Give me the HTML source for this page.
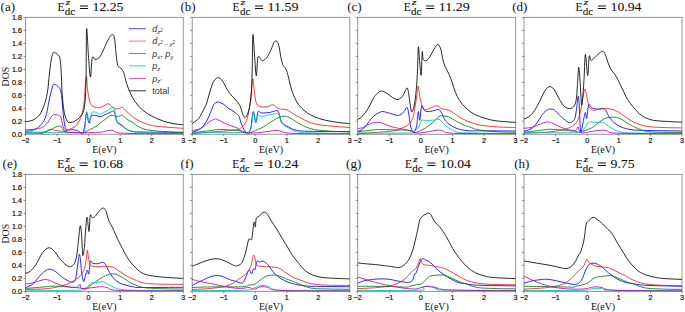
<!DOCTYPE html><html><head><meta charset="utf-8"><style>html,body{margin:0;padding:0;background:#fff;width:685px;height:312px;overflow:hidden}svg{display:block}.tk{font-family:"Liberation Sans",sans-serif;font-size:7.2px;fill:#111;stroke:#111;stroke-width:0.2px}.sf{font-family:"Liberation Serif",serif;fill:#111}.st{stroke:#111;stroke-width:0.1px}.lg{font-family:"Liberation Sans",sans-serif;font-size:9px;fill:#333}</style></head><body>
<svg width="685" height="312" viewBox="0 0 685 312">
<rect width="685" height="312" fill="#fff"/>
<clipPath id="cla"><rect x="25.5" y="17.4" width="157.8" height="116.9"/></clipPath>
<g clip-path="url(#cla)" fill="none" stroke-linejoin="round" stroke-linecap="round">
<path d="M25.5 131.3 C26.7 131.15 30.55 131.08 32.7 130.4 C34.85 129.72 36.97 128.22 38.4 127.2 C39.83 126.18 40.33 125.45 41.3 124.3 C42.27 123.15 43.32 122.1 44.2 120.3 C45.08 118.5 45.72 117.13 46.6 113.5 C47.48 109.87 48.52 102.95 49.5 98.5 C50.48 94.05 51.75 89.18 52.5 86.8 C53.25 84.42 53.18 84.37 54 84.2 C54.82 84.03 56.35 84.88 57.4 85.8 C58.45 86.72 59.55 87.58 60.3 89.7 C61.05 91.82 61.42 94.42 61.9 98.5 C62.38 102.58 62.65 109.37 63.2 114.2 C63.75 119.03 64.53 124.9 65.2 127.5 C65.87 130.1 66.1 129.42 67.2 129.8 C68.3 130.18 70.08 129.7 71.8 129.8 C73.52 129.9 76.07 129.92 77.5 130.4 C78.93 130.88 79.43 132.47 80.4 132.7 C81.37 132.93 82.5 133.55 83.3 131.8 C84.1 130.05 84.65 125.42 85.2 122.2 C85.75 118.98 86.12 112.83 86.6 112.5 C87.08 112.17 87.62 118.43 88.1 120.2 C88.58 121.97 89.02 123.73 89.5 123.1 C89.98 122.47 89.92 117.68 91 116.4 C92.08 115.12 94.5 115.33 96 115.4 C97.5 115.47 98.27 117.03 100 116.8 C101.73 116.57 104.48 114.85 106.4 114 C108.32 113.15 110.32 112.2 111.5 111.7 C112.68 111.2 112.9 110.58 113.5 111 C114.1 111.42 114.62 112.6 115.1 114.2 C115.58 115.8 115.92 119.1 116.4 120.6 C116.88 122.1 117.2 122.45 118 123.2 C118.8 123.95 120.13 124.35 121.2 125.1 C122.27 125.85 123.23 126.83 124.4 127.7 C125.57 128.57 126.72 129.67 128.2 130.3 C129.68 130.93 131.33 131.22 133.3 131.5 C135.27 131.78 131.72 131.87 140 132 C148.28 132.13 175.83 132.25 183 132.3" stroke="#0000ff" stroke-width="0.85"/>
<path d="M25.5 133.8 C27.92 133.77 36.75 133.82 40 133.6 C43.25 133.38 43.67 133.03 45 132.5 C46.33 131.97 47.1 130.92 48 130.4 C48.9 129.88 49.1 129.38 50.4 129.4 C51.7 129.42 54 130.2 55.8 130.5 C57.6 130.8 59.53 131.15 61.2 131.2 C62.87 131.25 64.13 131.25 65.8 130.8 C67.47 130.35 69.67 129.17 71.2 128.5 C72.73 127.83 73.62 128.18 75 126.8 C76.38 125.42 78.28 122.58 79.5 120.2 C80.72 117.82 81.5 115.7 82.3 112.5 C83.1 109.3 83.82 105.17 84.3 101 C84.78 96.83 84.88 91.25 85.2 87.5 C85.52 83.75 85.95 80.2 86.2 78.5 C86.45 76.8 86.47 75.38 86.7 77.3 C86.93 79.22 87.05 85.8 87.6 90 C88.15 94.2 89.12 99.78 90 102.5 C90.88 105.22 91.82 105.47 92.9 106.3 C93.98 107.13 95.32 107.28 96.5 107.5 C97.68 107.72 98.78 107.87 100 107.6 C101.22 107.33 102.47 106.55 103.8 105.9 C105.13 105.25 106.72 103.6 108 103.7 C109.28 103.8 110.27 105.65 111.5 106.5 C112.73 107.35 114.22 108.47 115.4 108.8 C116.58 109.13 117.43 108.7 118.6 108.5 C119.77 108.3 121.02 107.07 122.4 107.6 C123.78 108.13 125.3 110.27 126.9 111.7 C128.5 113.13 130.65 115.07 132 116.2 C133.35 117.33 132.87 117.3 135 118.5 C137.13 119.7 141.13 122.1 144.8 123.4 C148.47 124.7 150.63 125.48 157 126.3 C163.37 127.12 178.67 127.97 183 128.3" stroke="#e42222" stroke-width="0.85"/>
<path d="M25.5 132.3 C27.92 132.28 36.88 132.28 40 132.2 C43.12 132.12 42.45 132.2 44.2 131.8 C45.95 131.4 48.7 130.55 50.5 129.8 C52.3 129.05 53.48 127.97 55 127.3 C56.52 126.63 58.52 125.88 59.6 125.8 C60.68 125.72 60.85 126.02 61.5 126.8 C62.15 127.58 62.55 129.58 63.5 130.5 C64.45 131.42 64.45 131.92 67.2 132.3 C69.95 132.68 77.37 132.63 80 132.8 C82.63 132.97 81.8 133.63 83 133.3 C84.2 132.97 85.87 131.52 87.2 130.8 C88.53 130.08 89.53 129.73 91 129 C92.47 128.27 94.5 127.37 96 126.4 C97.5 125.43 98.48 124.37 100 123.2 C101.52 122.03 103.6 120.57 105.1 119.4 C106.6 118.23 107.82 116.88 109 116.2 C110.18 115.52 111.13 115.3 112.2 115.3 C113.27 115.3 114.33 116.05 115.4 116.2 C116.47 116.35 117.43 116.35 118.6 116.2 C119.77 116.05 121.02 114.77 122.4 115.3 C123.78 115.83 125.3 118.3 126.9 119.4 C128.5 120.5 130.23 120.8 132 121.9 C133.77 123 134.55 124.62 137.5 126 C140.45 127.38 142.12 129.08 149.7 130.2 C157.28 131.32 177.45 132.28 183 132.7" stroke="#008000" stroke-width="0.85"/>
<path d="M25.5 132.5 C34.58 132.5 70.2 132.65 80 132.5 C89.8 132.35 83.33 133.97 84.3 131.6 C85.27 129.23 85.38 121.63 85.8 118.3 C86.22 114.97 86.42 111.77 86.8 111.6 C87.18 111.43 87.57 115.87 88.1 117.3 C88.63 118.73 89.35 121 90 120.2 C90.65 119.4 90.92 113.78 92 112.5 C93.08 111.22 95.17 112.22 96.5 112.5 C97.83 112.78 98.35 114.45 100 114.2 C101.65 113.95 104.68 111.95 106.4 111 C108.12 110.05 109.23 109.13 110.3 108.5 C111.37 107.87 112.12 107.2 112.8 107.2 C113.48 107.2 113.87 106.9 114.4 108.5 C114.93 110.1 115.52 114.67 116 116.8 C116.48 118.93 116.55 120.13 117.3 121.3 C118.05 122.47 119.32 122.83 120.5 123.8 C121.68 124.77 123.12 126.08 124.4 127.1 C125.68 128.12 126.72 129.15 128.2 129.9 C129.68 130.65 131.33 131.12 133.3 131.6 C135.27 132.08 131.72 132.47 140 132.8 C148.28 133.13 175.83 133.47 183 133.6" stroke="#00bfbf" stroke-width="0.85"/>
<path d="M25.5 129.6 C26.75 129.57 30.55 129.65 33 129.4 C35.45 129.15 38.33 128.65 40.2 128.1 C42.07 127.55 42.9 127.07 44.2 126.1 C45.5 125.13 46.95 123.65 48 122.3 C49.05 120.95 49.6 119.25 50.5 118 C51.4 116.75 52.1 115.27 53.4 114.8 C54.7 114.33 57.05 114.8 58.3 115.2 C59.55 115.6 60.08 115.23 60.9 117.2 C61.72 119.17 62.15 124.55 63.2 127 C64.25 129.45 64.4 130.98 67.2 131.9 C70 132.82 74.53 132.45 80 132.5 C85.47 132.55 95.38 132.52 100 132.2 C104.62 131.88 105.57 130.92 107.7 130.6 C109.83 130.28 111.52 130.03 112.8 130.3 C114.08 130.57 114.12 131.75 115.4 132.2 C116.68 132.65 116.4 132.75 120.5 133 C124.6 133.25 129.58 133.55 140 133.7 C150.42 133.85 175.83 133.87 183 133.9" stroke="#bf00bf" stroke-width="0.85"/>
<path d="M25.5 121.6 C26.25 121.5 28.58 121.33 30 121 C31.42 120.67 32.57 120.43 34 119.6 C35.43 118.77 37.43 117.18 38.6 116 C39.77 114.82 40.23 113.88 41 112.5 C41.77 111.12 42.5 109.45 43.2 107.7 C43.9 105.95 44.62 103.92 45.2 102 C45.78 100.08 46.23 98.53 46.7 96.2 C47.17 93.87 47.62 91.08 48 88 C48.38 84.92 48.63 81.2 49 77.7 C49.37 74.2 49.82 70.08 50.2 67 C50.58 63.92 50.92 61.32 51.3 59.2 C51.68 57.08 52.08 55.47 52.5 54.3 C52.92 53.13 53.22 52.37 53.8 52.2 C54.38 52.03 55.22 52.8 56 53.3 C56.78 53.8 57.87 54.42 58.5 55.2 C59.13 55.98 59.43 56.37 59.8 58 C60.17 59.63 60.42 61.67 60.7 65 C60.98 68.33 61.25 73.07 61.5 78 C61.75 82.93 61.75 88.9 62.2 94.6 C62.65 100.3 63.38 107.8 64.2 112.2 C65.02 116.6 66.13 119.27 67.1 121 C68.07 122.73 68.68 122.6 70 122.6 C71.32 122.6 73.35 121.92 75 121 C76.65 120.08 78.43 118.88 79.9 117.1 C81.37 115.32 82.88 113.82 83.8 110.3 C84.72 106.78 85.02 101.88 85.4 96 C85.78 90.12 85.9 86.2 86.1 75 C86.3 63.8 86.22 32.13 86.6 28.8 C86.98 25.47 87.77 46.98 88.4 55 C89.03 63.02 89.75 76.45 90.4 76.9 C91.05 77.35 91.5 60.58 92.3 57.7 C93.1 54.82 93.92 59.77 95.2 59.6 C96.48 59.43 98.45 58.72 100 56.7 C101.55 54.68 103.17 50.28 104.5 47.5 C105.83 44.72 106.92 42 108 40 C109.08 38 110.12 36.37 111 35.5 C111.88 34.63 112.67 34.05 113.3 34.8 C113.93 35.55 114.38 37.2 114.8 40 C115.22 42.8 115.32 47.43 115.8 51.6 C116.28 55.77 116.9 62.27 117.7 65 C118.5 67.73 119.72 67 120.6 68 C121.48 69 122.37 69.88 123 71 C123.63 72.12 123.82 72.67 124.4 74.7 C124.98 76.73 125.53 80.17 126.5 83.2 C127.47 86.23 128.78 89.85 130.2 92.9 C131.62 95.95 132.97 98.65 135 101.5 C137.03 104.35 139.55 107.53 142.4 110 C145.25 112.47 149.17 114.67 152.1 116.3 C155.03 117.93 157.52 118.82 160 119.8 C162.48 120.78 164.5 121.52 167 122.2 C169.5 122.88 172.33 123.47 175 123.9 C177.67 124.33 181.67 124.65 183 124.8" stroke="#000000" stroke-width="0.85"/>
</g>
<rect x="25.5" y="17.4" width="157.8" height="116.9" fill="none" stroke="rgba(0,0,0,0.42)" stroke-width="1.0"/>
<path d="M25.5 134.3 v2.0 M57.06 134.3 v2.0 M88.62 134.3 v2.0 M120.18 134.3 v2.0 M151.74 134.3 v2.0 M183.3 134.3 v2.0 M25.5 134.3 h-2.0 M25.5 121.31 h-2.0 M25.5 108.32 h-2.0 M25.5 95.33 h-2.0 M25.5 82.34 h-2.0 M25.5 69.36 h-2.0 M25.5 56.37 h-2.0 M25.5 43.38 h-2.0 M25.5 30.39 h-2.0 M25.5 17.4 h-2.0" stroke="rgba(0,0,0,0.42)" stroke-width="1.0" fill="none"/>
<text class="tk" x="25.5" y="142.9" text-anchor="middle">−2</text>
<text class="tk" x="57.06" y="142.9" text-anchor="middle">−1</text>
<text class="tk" x="88.62" y="142.9" text-anchor="middle">0</text>
<text class="tk" x="120.18" y="142.9" text-anchor="middle">1</text>
<text class="tk" x="151.74" y="142.9" text-anchor="middle">2</text>
<text class="tk" x="183.3" y="142.9" text-anchor="middle">3</text>
<text class="tk" x="22" y="136.9" text-anchor="end">0.0</text>
<text class="tk" x="22" y="123.91" text-anchor="end">0.2</text>
<text class="tk" x="22" y="110.92" text-anchor="end">0.4</text>
<text class="tk" x="22" y="97.93" text-anchor="end">0.6</text>
<text class="tk" x="22" y="84.94" text-anchor="end">0.8</text>
<text class="tk" x="22" y="71.96" text-anchor="end">1.0</text>
<text class="tk" x="22" y="58.97" text-anchor="end">1.2</text>
<text class="tk" x="22" y="45.98" text-anchor="end">1.4</text>
<text class="tk" x="22" y="32.99" text-anchor="end">1.6</text>
<text class="tk" x="22" y="20" text-anchor="end">1.8</text>
<text class="sf" font-size="9.8" x="0" y="0" text-anchor="middle" transform="translate(8.7 76.65) rotate(-90)">DOS</text>
<text class="sf" font-size="9.9" x="104.4" y="152.8" text-anchor="middle">E(eV)</text>
<text class="sf" font-size="13" x="0.6" y="10.8">(a)</text>
<text class="sf st" font-size="13.1" x="57.5" y="10.8" textLength="7.0" lengthAdjust="spacingAndGlyphs">E</text>
<text class="sf st" font-style="italic" font-size="9.2" x="65.5" y="5.3" textLength="4.8" lengthAdjust="spacingAndGlyphs">z</text>
<text class="sf st" font-size="9.9" x="64.8" y="14.7" textLength="10.4" lengthAdjust="spacingAndGlyphs">dc</text>
<rect x="79.9" y="5.5" width="8.1" height="1" fill="#111"/>
<rect x="79.9" y="8" width="8.1" height="1" fill="#111"/>
<text class="sf st" font-size="13.2" x="92.5" y="11" textLength="31" lengthAdjust="spacingAndGlyphs">12.25</text>
<clipPath id="clb"><rect x="192.2" y="17.4" width="157.6" height="116.9"/></clipPath>
<g clip-path="url(#clb)" fill="none" stroke-linejoin="round" stroke-linecap="round">
<path d="M192.1 132.4 C193.2 131.95 196.97 130.67 198.7 129.7 C200.43 128.73 201.22 127.98 202.5 126.6 C203.78 125.22 205.23 123.33 206.4 121.4 C207.57 119.47 208.73 116.65 209.5 115 C210.27 113.35 210.32 113.2 211 111.5 C211.68 109.8 212.77 106.28 213.6 104.8 C214.43 103.32 215.2 103.05 216 102.6 C216.8 102.15 217.2 101.87 218.4 102.1 C219.6 102.33 221.6 103.02 223.2 104 C224.8 104.98 226.53 106.93 228 108 C229.47 109.07 230.63 109.48 232 110.4 C233.37 111.32 235.03 112.5 236.2 113.5 C237.37 114.5 238.12 114.63 239 116.4 C239.88 118.17 240.53 121.7 241.5 124.1 C242.47 126.5 243.77 129.37 244.8 130.8 C245.83 132.23 246.73 133.02 247.7 132.7 C248.67 132.38 249.68 132.42 250.6 128.9 C251.52 125.38 252.33 112.72 253.2 111.6 C254.07 110.48 254.98 122.2 255.8 122.2 C256.62 122.2 257.15 113.15 258.1 111.6 C259.05 110.05 259.65 112.75 261.5 112.9 C263.35 113.05 266.63 112.88 269.2 112.5 C271.77 112.12 275.3 110.6 276.9 110.6 C278.5 110.6 278 110.57 278.8 112.5 C279.6 114.43 280.08 119.78 281.7 122.2 C283.32 124.62 286.08 125.67 288.5 127 C290.92 128.33 292.62 129.48 296.2 130.2 C299.78 130.92 301.12 131.08 310 131.3 C318.88 131.52 342.92 131.47 349.5 131.5" stroke="#0000ff" stroke-width="0.85"/>
<path d="M192.1 133.7 C195.92 133.38 207.65 132.45 215 131.8 C222.35 131.15 231.72 130.6 236.2 129.8 C240.68 129 240.3 128.27 241.9 127 C243.5 125.73 244.67 124.62 245.8 122.2 C246.93 119.78 247.9 116.37 248.7 112.5 C249.5 108.63 250.07 103.48 250.6 99 C251.13 94.52 251.52 88.95 251.9 85.6 C252.28 82.25 252.42 77.3 252.9 78.9 C253.38 80.5 254.17 91.03 254.8 95.2 C255.43 99.37 255.73 101.97 256.7 103.9 C257.67 105.83 258.83 106.32 260.6 106.8 C262.37 107.28 265.22 107.13 267.3 106.8 C269.38 106.47 271.18 104.48 273.1 104.8 C275.02 105.12 276.57 107.88 278.8 108.7 C281.03 109.52 283.93 108.73 286.5 109.7 C289.07 110.67 291.95 113.2 294.2 114.5 C296.45 115.8 297.18 116.1 300 117.5 C302.82 118.9 306.78 121.55 311.1 122.9 C315.42 124.25 319.5 124.83 325.9 125.6 C332.3 126.37 345.57 127.18 349.5 127.5" stroke="#e42222" stroke-width="0.85"/>
<path d="M192.1 132.7 C194.95 132.38 204.75 131.33 209.2 130.8 C213.65 130.27 215.58 129.67 218.8 129.5 C222.02 129.33 224.97 129.58 228.5 129.8 C232.03 130.02 236.8 130.32 240 130.8 C243.2 131.28 246.03 132.38 247.7 132.7 C249.37 133.02 247.7 133.5 250 132.7 C252.3 131.9 258.3 129.5 261.5 127.9 C264.7 126.3 266.63 124.7 269.2 123.1 C271.77 121.5 274.82 119.42 276.9 118.3 C278.98 117.18 280.1 116.72 281.7 116.4 C283.3 116.08 284.73 115.92 286.5 116.4 C288.27 116.88 290.05 118.03 292.3 119.3 C294.55 120.57 296.87 122.42 300 124 C303.13 125.58 306.78 127.65 311.1 128.8 C315.42 129.95 319.5 130.37 325.9 130.9 C332.3 131.43 345.57 131.82 349.5 132" stroke="#008000" stroke-width="0.85"/>
<path d="M192.1 132.5 C200.08 132.5 230.68 132.45 240 132.5 C249.32 132.55 246.08 133.88 248 132.8 C249.92 131.72 250.62 129.38 251.5 126 C252.38 122.62 252.58 113 253.3 112.5 C254.02 112 255 122.58 255.8 123 C256.6 123.42 257.15 116.1 258.1 115 C259.05 113.9 258.37 116.65 261.5 116.4 C264.63 116.15 273.98 113.73 276.9 113.5 C279.82 113.27 278.2 113.4 279 115 C279.8 116.6 280.12 120.93 281.7 123.1 C283.28 125.27 286.08 126.58 288.5 128 C290.92 129.42 292.62 130.8 296.2 131.6 C299.78 132.4 301.12 132.47 310 132.8 C318.88 133.13 342.92 133.47 349.5 133.6" stroke="#00bfbf" stroke-width="0.85"/>
<path d="M192.1 130.5 C193.2 130.3 196.97 129.82 198.7 129.3 C200.43 128.78 201.22 128.23 202.5 127.4 C203.78 126.57 205.12 125.33 206.4 124.3 C207.68 123.27 208.92 122.02 210.2 121.2 C211.48 120.38 213.05 119.75 214.1 119.4 C215.15 119.05 215.07 118.63 216.5 119.1 C217.93 119.57 220.38 121.12 222.7 122.2 C225.02 123.28 228 124.65 230.4 125.6 C232.8 126.55 235.18 126.87 237.1 127.9 C239.02 128.93 240.08 130.95 241.9 131.8 C243.72 132.65 244.98 132.88 248 133 C251.02 133.12 255.18 132.93 260 132.5 C264.82 132.07 272.8 130.4 276.9 130.4 C281 130.4 280.75 131.97 284.6 132.5 C288.45 133.03 289.18 133.37 300 133.6 C310.82 133.83 341.25 133.85 349.5 133.9" stroke="#bf00bf" stroke-width="0.85"/>
<path d="M192.1 123.6 C192.75 123.13 194.9 121.65 196 120.8 C197.1 119.95 197.77 119.7 198.7 118.5 C199.63 117.3 200.72 115.18 201.6 113.6 C202.48 112.02 203.2 110.6 204 109 C204.8 107.4 205.73 105.75 206.4 104 C207.07 102.25 207.47 100.37 208 98.5 C208.53 96.63 209.07 94.63 209.6 92.8 C210.13 90.97 210.67 89.1 211.2 87.5 C211.73 85.9 212.17 84.53 212.8 83.2 C213.43 81.87 214.2 80.43 215 79.5 C215.8 78.57 216.77 77.8 217.6 77.6 C218.43 77.4 219.2 77.77 220 78.3 C220.8 78.83 221.6 79.68 222.4 80.8 C223.2 81.92 224 83.53 224.8 85 C225.6 86.47 226.4 88.27 227.2 89.6 C228 90.93 228.8 91.93 229.6 93 C230.4 94.07 230.9 94.75 232 96 C233.1 97.25 234.87 98.87 236.2 100.5 C237.53 102.13 238.88 103.47 240 105.8 C241.12 108.13 242 112.58 242.9 114.5 C243.8 116.42 244.43 117.95 245.4 117.3 C246.37 116.65 247.73 114.28 248.7 110.6 C249.67 106.92 250.62 101.97 251.2 95.2 C251.78 88.43 251.92 80.08 252.2 70 C252.48 59.92 252.52 37.2 252.9 34.7 C253.28 32.2 253.93 48.12 254.5 55 C255.07 61.88 255.7 75.7 256.3 76 C256.9 76.3 257.07 59.35 258.1 56.8 C259.13 54.25 260.97 60.7 262.5 60.7 C264.03 60.7 265.85 58.72 267.3 56.8 C268.75 54.88 270.08 51.6 271.2 49.2 C272.32 46.8 273.12 43.75 274 42.4 C274.88 41.05 275.7 40.62 276.5 41.1 C277.3 41.58 278.08 42.68 278.8 45.3 C279.52 47.92 280.15 53.6 280.8 56.8 C281.45 60 281.98 62.67 282.7 64.5 C283.42 66.33 284.35 66.47 285.1 67.8 C285.85 69.13 286.5 70.33 287.2 72.5 C287.9 74.67 288.6 78.02 289.3 80.8 C290 83.58 290.53 86.42 291.4 89.2 C292.27 91.98 293.28 94.9 294.5 97.5 C295.72 100.1 296.97 102.55 298.7 104.8 C300.43 107.05 302.82 109.27 304.9 111 C306.98 112.73 308.35 113.8 311.2 115.2 C314.05 116.6 317.78 118.23 322 119.4 C326.22 120.57 331.92 121.5 336.5 122.2 C341.08 122.9 347.33 123.37 349.5 123.6" stroke="#000000" stroke-width="0.85"/>
</g>
<rect x="192.2" y="17.4" width="157.6" height="116.9" fill="none" stroke="rgba(0,0,0,0.42)" stroke-width="1.0"/>
<path d="M192.2 134.3 v2.0 M223.72 134.3 v2.0 M255.24 134.3 v2.0 M286.76 134.3 v2.0 M318.28 134.3 v2.0 M349.8 134.3 v2.0 M192.2 134.3 h-2.0 M192.2 121.31 h-2.0 M192.2 108.32 h-2.0 M192.2 95.33 h-2.0 M192.2 82.34 h-2.0 M192.2 69.36 h-2.0 M192.2 56.37 h-2.0 M192.2 43.38 h-2.0 M192.2 30.39 h-2.0 M192.2 17.4 h-2.0" stroke="rgba(0,0,0,0.42)" stroke-width="1.0" fill="none"/>
<text class="tk" x="192.2" y="142.9" text-anchor="middle">−2</text>
<text class="tk" x="223.72" y="142.9" text-anchor="middle">−1</text>
<text class="tk" x="255.24" y="142.9" text-anchor="middle">0</text>
<text class="tk" x="286.76" y="142.9" text-anchor="middle">1</text>
<text class="tk" x="318.28" y="142.9" text-anchor="middle">2</text>
<text class="tk" x="349.8" y="142.9" text-anchor="middle">3</text>
<text class="sf" font-size="9.9" x="271" y="152.8" text-anchor="middle">E(eV)</text>
<text class="sf" font-size="13" x="180.4" y="10.8">(b)</text>
<text class="sf st" font-size="13.1" x="232.6" y="10.8" textLength="7.0" lengthAdjust="spacingAndGlyphs">E</text>
<text class="sf st" font-style="italic" font-size="9.2" x="240.6" y="5.3" textLength="4.8" lengthAdjust="spacingAndGlyphs">z</text>
<text class="sf st" font-size="9.9" x="239.9" y="14.7" textLength="10.4" lengthAdjust="spacingAndGlyphs">dc</text>
<rect x="255" y="5.5" width="8.1" height="1" fill="#111"/>
<rect x="255" y="8" width="8.1" height="1" fill="#111"/>
<text class="sf st" font-size="13.2" x="267.6" y="11" textLength="31" lengthAdjust="spacingAndGlyphs">11.59</text>
<clipPath id="clc"><rect x="357.7" y="17.4" width="157.9" height="116.9"/></clipPath>
<g clip-path="url(#clc)" fill="none" stroke-linejoin="round" stroke-linecap="round">
<path d="M357.7 131.6 C358.55 131.18 361.32 130.23 362.8 129.1 C364.28 127.97 365.17 126.57 366.6 124.8 C368.03 123.03 369.8 120.27 371.4 118.5 C373 116.73 374.77 115.23 376.2 114.2 C377.63 113.17 378.88 112.75 380 112.3 C381.12 111.85 381.13 111.3 382.9 111.5 C384.67 111.7 388.03 112.85 390.6 113.5 C393.17 114.15 396.05 115.72 398.3 115.4 C400.55 115.08 402.65 112.97 404.1 111.6 C405.55 110.23 406.2 106.72 407 107.2 C407.8 107.68 408.27 111.2 408.9 114.5 C409.53 117.8 410 124.05 410.8 127 C411.6 129.95 412.73 132.37 413.7 132.2 C414.67 132.03 415.83 129.43 416.6 126 C417.37 122.57 417.77 112.57 418.3 111.6 C418.83 110.63 419.23 121.17 419.8 120.2 C420.37 119.23 420.9 107.4 421.7 105.8 C422.5 104.2 423.32 109.63 424.6 110.6 C425.88 111.57 427.63 111.67 429.4 111.6 C431.17 111.53 433.6 110.52 435.2 110.2 C436.8 109.88 437.88 109.15 439 109.7 C440.12 110.25 440.78 111.58 441.9 113.5 C443.02 115.42 443.93 119.05 445.7 121.2 C447.47 123.35 450.08 125.02 452.5 126.4 C454.92 127.78 457.32 128.77 460.2 129.5 C463.08 130.23 466.63 130.58 469.8 130.8 C472.97 131.02 471.58 130.77 479.2 130.8 C486.82 130.83 509.45 130.97 515.5 131" stroke="#0000ff" stroke-width="0.85"/>
<path d="M357.7 133.7 C363.83 133.22 387.08 131.77 394.5 130.8 C401.92 129.83 399.97 128.87 402.2 127.9 C404.43 126.93 406.3 126.28 407.9 125 C409.5 123.72 410.83 121.95 411.8 120.2 C412.77 118.45 413 117.7 413.7 114.5 C414.4 111.3 415.37 105.02 416 101 C416.63 96.98 417.12 92.8 417.5 90.4 C417.88 88 417.83 85.15 418.3 86.6 C418.77 88.05 419.57 95.58 420.3 99.1 C421.03 102.62 421.83 105.93 422.7 107.7 C423.57 109.47 424.07 109.7 425.5 109.7 C426.93 109.7 429.37 108.35 431.3 107.7 C433.23 107.05 435.33 105.63 437.1 105.8 C438.87 105.97 439.98 107.97 441.9 108.7 C443.82 109.43 446.52 109.4 448.6 110.2 C450.68 111 452.5 112.28 454.4 113.5 C456.3 114.72 457.78 116.22 460 117.5 C462.22 118.78 464.5 119.95 467.7 121.2 C470.9 122.45 474.07 124.03 479.2 125 C484.33 125.97 492.45 126.58 498.5 127 C504.55 127.42 512.67 127.42 515.5 127.5" stroke="#e42222" stroke-width="0.85"/>
<path d="M357.7 131.8 C360.62 131.47 371.32 130.18 375.2 129.8 C379.08 129.42 377.78 129.5 381 129.5 C384.22 129.5 389.7 129.65 394.5 129.8 C399.3 129.95 406.6 129.98 409.8 130.4 C413 130.82 412.67 131.95 413.7 132.3 C414.73 132.65 414.03 133.23 416 132.5 C417.97 131.77 422.63 129.62 425.5 127.9 C428.37 126.18 430.95 124.12 433.2 122.2 C435.45 120.28 437.4 117.43 439 116.4 C440.6 115.37 441.2 115.93 442.8 116 C444.4 116.07 446.35 115.93 448.6 116.8 C450.85 117.67 453.73 119.83 456.3 121.2 C458.87 122.57 461.75 124.03 464 125 C466.25 125.97 467.27 126.17 469.8 127 C472.33 127.83 474.42 129.2 479.2 130 C483.98 130.8 492.45 131.42 498.5 131.8 C504.55 132.18 512.67 132.22 515.5 132.3" stroke="#008000" stroke-width="0.85"/>
<path d="M357.7 133 C366.42 133 400.62 133.2 410 133 C419.38 132.8 412.67 132.63 414 131.8 C415.33 130.97 417.03 129.28 418 128 C418.97 126.72 419.18 125.4 419.8 124.1 C420.42 122.8 420.75 120.78 421.7 120.2 C422.65 119.62 423.58 120.6 425.5 120.6 C427.42 120.6 430.95 120.42 433.2 120.2 C435.45 119.98 437.4 118.82 439 119.3 C440.6 119.78 441.2 121.67 442.8 123.1 C444.4 124.53 446.35 126.43 448.6 127.9 C450.85 129.37 453.73 131.08 456.3 131.9 C458.87 132.72 454.13 132.52 464 132.8 C473.87 133.08 506.92 133.47 515.5 133.6" stroke="#00bfbf" stroke-width="0.85"/>
<path d="M357.7 128.6 C358.55 128.43 361.32 128.08 362.8 127.6 C364.28 127.12 365.17 126.42 366.6 125.7 C368.03 124.98 369.8 123.87 371.4 123.3 C373 122.73 374.6 122.38 376.2 122.3 C377.8 122.22 379.23 122.35 381 122.8 C382.77 123.25 384.55 124.22 386.8 125 C389.05 125.78 391.93 126.85 394.5 127.5 C397.07 128.15 399.65 128.35 402.2 128.9 C404.75 129.45 407.88 130.25 409.8 130.8 C411.72 131.35 412 131.83 413.7 132.2 C415.4 132.57 416.1 133.33 420 133 C423.9 132.67 433.3 130.57 437.1 130.2 C440.9 129.83 440.88 130.35 442.8 130.8 C444.72 131.25 444.07 132.43 448.6 132.9 C453.13 133.37 458.85 133.43 470 133.6 C481.15 133.77 507.92 133.85 515.5 133.9" stroke="#bf00bf" stroke-width="0.85"/>
<path d="M357.7 119.8 C358.55 119.13 361.32 117.3 362.8 115.8 C364.28 114.3 365.48 112.43 366.6 110.8 C367.72 109.17 368.52 107.8 369.5 106 C370.48 104.2 371.55 101.73 372.5 100 C373.45 98.27 373.78 97.1 375.2 95.6 C376.62 94.1 379.07 91.38 381 91 C382.93 90.62 384.88 92.22 386.8 93.3 C388.72 94.38 390.58 96.47 392.5 97.5 C394.42 98.53 396.53 99.88 398.3 99.5 C400.07 99.12 401.65 97.13 403.1 95.2 C404.55 93.27 406.03 87.9 407 87.9 C407.97 87.9 408.27 91.73 408.9 95.2 C409.53 98.67 410.25 105.97 410.8 108.7 C411.35 111.43 411.55 112.57 412.2 111.6 C412.85 110.63 413.97 107.23 414.7 102.9 C415.43 98.57 416.13 91.08 416.6 85.6 C417.07 80.12 417.2 76.45 417.5 70 C417.8 63.55 418.03 48.23 418.4 46.9 C418.77 45.57 419.23 57.28 419.7 62 C420.17 66.72 420.78 76.85 421.2 75.2 C421.62 73.55 421.88 54.83 422.2 52.1 C422.52 49.37 422.57 57.35 423.1 58.8 C423.63 60.25 424.38 60.95 425.4 60.8 C426.42 60.65 427.77 59.83 429.2 57.9 C430.63 55.97 432.55 51.45 434 49.2 C435.45 46.95 436.77 44.4 437.9 44.4 C439.03 44.4 440 46.8 440.8 49.2 C441.6 51.6 442 55.95 442.7 58.8 C443.4 61.65 443.92 63.67 445 66.3 C446.08 68.93 447.98 71.83 449.2 74.6 C450.42 77.37 451.27 79.95 452.3 82.9 C453.33 85.85 454.18 89.35 455.4 92.3 C456.62 95.25 457.87 98 459.6 100.6 C461.33 103.2 463.37 105.63 465.8 107.9 C468.23 110.17 471 112.47 474.2 114.2 C477.4 115.93 481.37 117.2 485 118.3 C488.63 119.4 490.92 120.12 496 120.8 C501.08 121.48 512.25 122.13 515.5 122.4" stroke="#000000" stroke-width="0.85"/>
</g>
<rect x="357.7" y="17.4" width="157.9" height="116.9" fill="none" stroke="rgba(0,0,0,0.42)" stroke-width="1.0"/>
<path d="M357.7 134.3 v2.0 M389.28 134.3 v2.0 M420.86 134.3 v2.0 M452.44 134.3 v2.0 M484.02 134.3 v2.0 M515.6 134.3 v2.0 M357.7 134.3 h-2.0 M357.7 121.31 h-2.0 M357.7 108.32 h-2.0 M357.7 95.33 h-2.0 M357.7 82.34 h-2.0 M357.7 69.36 h-2.0 M357.7 56.37 h-2.0 M357.7 43.38 h-2.0 M357.7 30.39 h-2.0 M357.7 17.4 h-2.0" stroke="rgba(0,0,0,0.42)" stroke-width="1.0" fill="none"/>
<text class="tk" x="357.7" y="142.9" text-anchor="middle">−2</text>
<text class="tk" x="389.28" y="142.9" text-anchor="middle">−1</text>
<text class="tk" x="420.86" y="142.9" text-anchor="middle">0</text>
<text class="tk" x="452.44" y="142.9" text-anchor="middle">1</text>
<text class="tk" x="484.02" y="142.9" text-anchor="middle">2</text>
<text class="tk" x="515.6" y="142.9" text-anchor="middle">3</text>
<text class="sf" font-size="9.9" x="436.65" y="152.8" text-anchor="middle">E(eV)</text>
<text class="sf" font-size="13" x="347.2" y="10.8">(c)</text>
<text class="sf st" font-size="13.1" x="403.8" y="10.8" textLength="7.0" lengthAdjust="spacingAndGlyphs">E</text>
<text class="sf st" font-style="italic" font-size="9.2" x="411.8" y="5.3" textLength="4.8" lengthAdjust="spacingAndGlyphs">z</text>
<text class="sf st" font-size="9.9" x="411.1" y="14.7" textLength="10.4" lengthAdjust="spacingAndGlyphs">dc</text>
<rect x="426.2" y="5.5" width="8.1" height="1" fill="#111"/>
<rect x="426.2" y="8" width="8.1" height="1" fill="#111"/>
<text class="sf st" font-size="13.2" x="438.8" y="11" textLength="31" lengthAdjust="spacingAndGlyphs">11.29</text>
<clipPath id="cld"><rect x="524" y="17.4" width="158" height="116.9"/></clipPath>
<g clip-path="url(#cld)" fill="none" stroke-linejoin="round" stroke-linecap="round">
<path d="M524 131.2 C524.98 130.9 528.15 130.27 529.9 129.4 C531.65 128.53 532.97 127.63 534.5 126 C536.03 124.37 537.55 121.82 539.1 119.6 C540.65 117.38 542.25 114.42 543.8 112.7 C545.35 110.98 547.28 109.92 548.4 109.3 C549.52 108.68 549.5 108.88 550.5 109 C551.5 109.12 552.9 108.97 554.4 110 C555.9 111.03 558.17 113.92 559.5 115.2 C560.83 116.48 560.95 116.53 562.4 117.7 C563.85 118.87 566.6 121.52 568.2 122.2 C569.8 122.88 570.88 122.45 572 121.8 C573.12 121.15 574.1 120.8 574.9 118.3 C575.7 115.8 576.25 110.48 576.8 106.8 C577.35 103.12 577.78 96.2 578.2 96.2 C578.62 96.2 578.95 101.52 579.3 106.8 C579.65 112.08 579.98 123.73 580.3 127.9 C580.62 132.07 580.67 133.08 581.2 131.8 C581.73 130.52 582.82 123.42 583.5 120.2 C584.18 116.98 584.77 112.82 585.3 112.5 C585.83 112.18 586.13 119.58 586.7 118.3 C587.27 117.02 587.9 106.57 588.7 104.8 C589.5 103.03 590.07 106.98 591.5 107.7 C592.93 108.42 595.37 108.93 597.3 109.1 C599.23 109.27 601.65 108.45 603.1 108.7 C604.55 108.95 605.05 109.32 606 110.6 C606.95 111.88 607.37 114.32 608.8 116.4 C610.23 118.48 612.35 121.25 614.6 123.1 C616.85 124.95 619.42 126.38 622.3 127.5 C625.18 128.62 628.38 129.32 631.9 129.8 C635.42 130.28 635.05 130.2 643.4 130.4 C651.75 130.6 675.57 130.9 682 131" stroke="#0000ff" stroke-width="0.85"/>
<path d="M524 133.3 C528.47 133.05 543.77 132.53 550.8 131.8 C557.83 131.07 562.35 130.03 566.2 128.9 C570.05 127.77 571.97 126.45 573.9 125 C575.83 123.55 576.67 122.6 577.8 120.2 C578.93 117.8 579.9 114.12 580.7 110.6 C581.5 107.08 582.07 102.15 582.6 99.1 C583.13 96.05 583.47 93.9 583.9 92.3 C584.33 90.7 584.57 88.05 585.2 89.5 C585.83 90.95 586.97 97.97 587.7 101 C588.43 104.03 588.63 106.17 589.6 107.7 C590.57 109.23 591.57 110.03 593.5 110.2 C595.43 110.37 598.97 108.95 601.2 108.7 C603.43 108.45 604.67 108.48 606.9 108.7 C609.13 108.92 612.35 109.2 614.6 110 C616.85 110.8 618.15 112.05 620.4 113.5 C622.65 114.95 625.55 117.1 628.1 118.7 C630.65 120.3 632.52 121.82 635.7 123.1 C638.88 124.38 642.7 125.67 647.2 126.4 C651.7 127.13 656.9 127.25 662.7 127.5 C668.5 127.75 678.78 127.83 682 127.9" stroke="#e42222" stroke-width="0.85"/>
<path d="M524 132.2 C526.87 131.87 536.73 130.68 541.2 130.2 C545.67 129.72 546.95 129.3 550.8 129.3 C554.65 129.3 560.13 129.85 564.3 130.2 C568.47 130.55 573.18 131.1 575.8 131.4 C578.42 131.7 577.38 132.58 580 132 C582.62 131.42 588.3 129.53 591.5 127.9 C594.7 126.27 596.95 123.8 599.2 122.2 C601.45 120.6 603.07 119.12 605 118.3 C606.93 117.48 608.88 117.47 610.8 117.3 C612.72 117.13 614.58 116.88 616.5 117.3 C618.42 117.72 620.38 118.73 622.3 119.8 C624.22 120.87 625.77 122.42 628 123.7 C630.23 124.98 632.5 126.18 635.7 127.5 C638.9 128.82 642.32 130.8 647.2 131.6 C652.08 132.4 659.2 132.17 665 132.3 C670.8 132.43 679.17 132.38 682 132.4" stroke="#008000" stroke-width="0.85"/>
<path d="M524 132.5 C533 132.5 568.03 133.1 578 132.5 C587.97 131.9 582.5 129.92 583.8 128.9 C585.1 127.88 584.98 127.52 585.8 126.4 C586.62 125.28 587.42 122.9 588.7 122.2 C589.98 121.5 591.75 122.15 593.5 122.2 C595.25 122.25 597.6 122.5 599.2 122.5 C600.8 122.5 601.82 121.78 603.1 122.2 C604.38 122.62 605.3 123.88 606.9 125 C608.5 126.12 610.45 127.75 612.7 128.9 C614.95 130.05 617.52 131.23 620.4 131.9 C623.28 132.57 619.73 132.62 630 132.9 C640.27 133.18 673.33 133.48 682 133.6" stroke="#00bfbf" stroke-width="0.85"/>
<path d="M524 128.3 C524.98 128.2 528.15 128 529.9 127.7 C531.65 127.4 532.77 127.08 534.5 126.5 C536.23 125.92 538.37 124.95 540.3 124.2 C542.23 123.45 544.37 122.28 546.1 122 C547.83 121.72 549.55 122.27 550.7 122.5 C551.85 122.73 551.37 122.65 553 123.4 C554.63 124.15 557.97 125.93 560.5 127 C563.03 128.07 565.65 129.27 568.2 129.8 C570.75 130.33 574.13 130.67 575.8 130.2 C577.47 129.73 577.38 126.58 578.2 127 C579.02 127.42 578.48 131.97 580.7 132.7 C582.92 133.43 588.08 131.82 591.5 131.4 C594.92 130.98 598.63 130.3 601.2 130.2 C603.77 130.1 604.98 130.35 606.9 130.8 C608.82 131.25 607.18 132.43 612.7 132.9 C618.22 133.37 628.45 133.43 640 133.6 C651.55 133.77 675 133.85 682 133.9" stroke="#bf00bf" stroke-width="0.85"/>
<path d="M524 119.2 C525 118.63 528.25 117.23 530 115.8 C531.75 114.37 533.43 111.98 534.5 110.6 C535.57 109.22 535.63 108.85 536.4 107.5 C537.17 106.15 538.03 104.63 539.1 102.5 C540.17 100.37 541.53 97.07 542.8 94.7 C544.07 92.33 545.52 89.63 546.7 88.3 C547.88 86.97 548.73 86.6 549.9 86.7 C551.07 86.8 552.42 87.37 553.7 88.9 C554.98 90.43 556.22 93.45 557.6 95.9 C558.98 98.35 560.62 101.67 562 103.6 C563.38 105.53 564.62 106.68 565.9 107.5 C567.18 108.32 568.42 108.62 569.7 108.5 C570.98 108.38 572.52 108.25 573.6 106.8 C574.68 105.35 575.57 103.32 576.2 99.8 C576.83 96.28 576.98 91.12 577.4 85.7 C577.82 80.28 578.27 68.25 578.7 67.3 C579.13 66.35 579.52 73.75 580 80 C580.48 86.25 581.07 102.9 581.6 104.8 C582.13 106.7 582.77 96.2 583.2 91.4 C583.63 86.6 583.83 82.17 584.2 76 C584.57 69.83 584.82 54.47 585.4 54.4 C585.98 54.33 587.07 75.28 587.7 75.6 C588.33 75.92 588.68 58.87 589.2 56.3 C589.72 53.73 590.15 59.72 590.8 60.2 C591.45 60.68 591.92 60.17 593.1 59.2 C594.28 58.23 596.3 55.73 597.9 54.4 C599.5 53.07 601.42 51.03 602.7 51.2 C603.98 51.37 604.63 53.27 605.6 55.4 C606.57 57.53 607.55 61.6 608.5 64 C609.45 66.4 610.02 67.72 611.3 69.8 C612.58 71.88 614.43 73.45 616.2 76.5 C617.97 79.55 619.98 84.25 621.9 88.1 C623.82 91.95 625.72 96.33 627.7 99.6 C629.68 102.87 631.5 105.07 633.8 107.7 C636.1 110.33 638.62 113.38 641.5 115.4 C644.38 117.42 647.57 118.83 651.1 119.8 C654.63 120.77 657.55 120.8 662.7 121.2 C667.85 121.6 678.78 122.03 682 122.2" stroke="#000000" stroke-width="0.85"/>
</g>
<rect x="524" y="17.4" width="158" height="116.9" fill="none" stroke="rgba(0,0,0,0.42)" stroke-width="1.0"/>
<path d="M524 134.3 v2.0 M555.6 134.3 v2.0 M587.2 134.3 v2.0 M618.8 134.3 v2.0 M650.4 134.3 v2.0 M682 134.3 v2.0 M524 134.3 h-2.0 M524 121.31 h-2.0 M524 108.32 h-2.0 M524 95.33 h-2.0 M524 82.34 h-2.0 M524 69.36 h-2.0 M524 56.37 h-2.0 M524 43.38 h-2.0 M524 30.39 h-2.0 M524 17.4 h-2.0" stroke="rgba(0,0,0,0.42)" stroke-width="1.0" fill="none"/>
<text class="tk" x="524" y="142.9" text-anchor="middle">−2</text>
<text class="tk" x="555.6" y="142.9" text-anchor="middle">−1</text>
<text class="tk" x="587.2" y="142.9" text-anchor="middle">0</text>
<text class="tk" x="618.8" y="142.9" text-anchor="middle">1</text>
<text class="tk" x="650.4" y="142.9" text-anchor="middle">2</text>
<text class="tk" x="682" y="142.9" text-anchor="middle">3</text>
<text class="sf" font-size="9.9" x="603" y="152.8" text-anchor="middle">E(eV)</text>
<text class="sf" font-size="13" x="512.2" y="10.8">(d)</text>
<text class="sf st" font-size="13.1" x="575.5" y="10.8" textLength="7.0" lengthAdjust="spacingAndGlyphs">E</text>
<text class="sf st" font-style="italic" font-size="9.2" x="583.5" y="5.3" textLength="4.8" lengthAdjust="spacingAndGlyphs">z</text>
<text class="sf st" font-size="9.9" x="582.8" y="14.7" textLength="10.4" lengthAdjust="spacingAndGlyphs">dc</text>
<rect x="597.9" y="5.5" width="8.1" height="1" fill="#111"/>
<rect x="597.9" y="8" width="8.1" height="1" fill="#111"/>
<text class="sf st" font-size="13.2" x="610.5" y="11" textLength="31" lengthAdjust="spacingAndGlyphs">10.94</text>
<clipPath id="cle"><rect x="25.5" y="174.4" width="157.8" height="117"/></clipPath>
<g clip-path="url(#cle)" fill="none" stroke-linejoin="round" stroke-linecap="round">
<path d="M25.3 287.8 C26.08 287.47 28.57 286.6 30 285.8 C31.43 285 32.42 284.48 33.9 283 C35.38 281.52 37.23 278.75 38.9 276.9 C40.57 275.05 42.25 273.18 43.9 271.9 C45.55 270.62 47.15 269.45 48.8 269.2 C50.45 268.95 52.35 269.73 53.8 270.4 C55.25 271.07 56.08 272.03 57.5 273.2 C58.92 274.37 60.48 276.12 62.3 277.4 C64.12 278.68 66.72 280.12 68.4 280.9 C70.08 281.68 71.22 282.35 72.4 282.1 C73.58 281.85 74.65 282.03 75.5 279.4 C76.35 276.77 76.83 270.5 77.5 266.3 C78.17 262.1 78.83 253.52 79.5 254.2 C80.17 254.88 80.83 265.85 81.5 270.4 C82.17 274.95 82.77 280.9 83.5 281.5 C84.23 282.1 85.25 275.9 85.9 274 C86.55 272.1 86.92 270.1 87.4 270.1 C87.88 270.1 88.33 275.47 88.8 274 C89.27 272.53 89.55 263.08 90.2 261.3 C90.85 259.52 91.47 262.9 92.7 263.3 C93.93 263.7 95.97 263.87 97.6 263.7 C99.23 263.53 101.2 262.22 102.5 262.3 C103.8 262.38 104.27 262.57 105.4 264.2 C106.53 265.83 107.67 269.48 109.3 272.1 C110.93 274.72 112.92 277.85 115.2 279.9 C117.48 281.95 120.07 283.27 123 284.4 C125.93 285.53 129.97 286.18 132.8 286.7 C135.63 287.22 131.63 287.4 140 287.5 C148.37 287.6 175.83 287.33 183 287.3" stroke="#0000ff" stroke-width="0.85"/>
<path d="M25.3 289.5 C28.58 289.38 40.05 289.13 45 288.8 C49.95 288.47 52.45 287.93 55 287.5 C57.55 287.07 58.57 286.68 60.3 286.2 C62.03 285.72 63.7 285.2 65.4 284.6 C67.1 284 68.8 283.45 70.5 282.6 C72.2 281.75 73.88 280.7 75.6 279.5 C77.32 278.3 79.43 276.93 80.8 275.4 C82.17 273.87 82.95 272.53 83.8 270.3 C84.65 268.07 85.38 264.88 85.9 262 C86.42 259.12 86.63 254.9 86.9 253 C87.17 251.1 87.18 249.53 87.5 250.6 C87.82 251.67 88.27 256.97 88.8 259.4 C89.33 261.83 89.57 264 90.7 265.2 C91.83 266.4 93.15 266.43 95.6 266.6 C98.05 266.77 102.47 266.1 105.4 266.2 C108.33 266.3 110.92 266.38 113.2 267.2 C115.48 268.02 116.82 269.63 119.1 271.1 C121.38 272.57 124.75 274.77 126.9 276 C129.05 277.23 129.52 277.42 132 278.5 C134.48 279.58 137.88 281.58 141.8 282.5 C145.72 283.42 148.63 283.68 155.5 284 C162.37 284.32 178.42 284.33 183 284.4" stroke="#e42222" stroke-width="0.85"/>
<path d="M25.3 288.5 C28.45 288.23 39.37 287.3 44.2 286.9 C49.03 286.5 50.27 286.1 54.3 286.1 C58.33 286.1 64.2 286.6 68.4 286.9 C72.6 287.2 76.98 287.63 79.5 287.9 C82.02 288.17 82.12 288.6 83.5 288.5 C84.88 288.4 85.78 288.42 87.8 287.3 C89.82 286.18 92.98 283.58 95.6 281.8 C98.22 280.02 100.88 277.9 103.5 276.6 C106.12 275.3 109.03 274.33 111.3 274 C113.57 273.67 115.15 273.95 117.1 274.6 C119.05 275.25 120.72 276.53 123 277.9 C125.28 279.27 127.67 281.25 130.8 282.8 C133.93 284.35 137.68 286.25 141.8 287.2 C145.92 288.15 148.63 288.18 155.5 288.5 C162.37 288.82 178.42 289 183 289.1" stroke="#008000" stroke-width="0.85"/>
<path d="M25.3 290.2 C34.42 290.18 69.58 290.68 80 290.1 C90.42 289.52 86.02 287.85 87.8 286.7 C89.58 285.55 89.07 283.92 90.7 283.2 C92.33 282.48 95.47 282.63 97.6 282.4 C99.73 282.17 101.87 281.57 103.5 281.8 C105.13 282.03 105.45 282.78 107.4 283.8 C109.35 284.82 112.6 286.93 115.2 287.9 C117.8 288.87 118.87 289.18 123 289.6 C127.13 290.02 130 290.23 140 290.4 C150 290.57 175.83 290.57 183 290.6" stroke="#00bfbf" stroke-width="0.85"/>
<path d="M25.3 284 C26.42 283.83 29.73 283.5 32 283 C34.27 282.5 36.75 281.58 38.9 281 C41.05 280.42 43.08 279.6 44.9 279.5 C46.72 279.4 48.32 279.92 49.8 280.4 C51.28 280.88 52.05 281.65 53.8 282.4 C55.55 283.15 57.87 284.15 60.3 284.9 C62.73 285.65 65.7 286.47 68.4 286.9 C71.1 287.33 74.58 287.97 76.5 287.5 C78.42 287.03 79.07 283.93 79.9 284.1 C80.73 284.27 79.53 287.9 81.5 288.5 C83.47 289.1 88.37 288 91.7 287.7 C95.03 287.4 98.88 286.7 101.5 286.7 C104.12 286.7 105.45 287.15 107.4 287.7 C109.35 288.25 109.43 289.5 113.2 290 C116.97 290.5 118.37 290.55 130 290.7 C141.63 290.85 174.17 290.87 183 290.9" stroke="#bf00bf" stroke-width="0.85"/>
<path d="M25.3 273.4 C26.1 273.07 28.3 272.92 30.1 271.4 C31.9 269.88 34.08 267.33 36.1 264.3 C38.12 261.27 40.12 255.95 42.2 253.2 C44.28 250.45 46.58 248.13 48.6 247.8 C50.62 247.47 52.35 249.28 54.3 251.2 C56.25 253.12 58.28 256.95 60.3 259.3 C62.32 261.65 64.72 264.07 66.4 265.3 C68.08 266.53 69.05 267.03 70.4 266.7 C71.75 266.37 73.42 265.38 74.5 263.3 C75.58 261.22 76.23 258.07 76.9 254.2 C77.57 250.33 77.95 244.83 78.5 240.1 C79.05 235.37 79.7 226.82 80.2 225.8 C80.7 224.78 81.12 229.6 81.5 234 C81.88 238.4 82.23 248.67 82.5 252.2 C82.77 255.73 82.77 256.22 83.1 255.2 C83.43 254.18 84.08 250.3 84.5 246.1 C84.92 241.9 85.17 234.83 85.6 230 C86.03 225.17 86.53 216.85 87.1 217.1 C87.67 217.35 88.47 231.82 89 231.5 C89.53 231.18 89.75 217.5 90.3 215.2 C90.85 212.9 91.48 217.53 92.3 217.7 C93.12 217.87 94.08 217.27 95.2 216.2 C96.32 215.13 97.73 212.65 99 211.3 C100.27 209.95 101.68 208.25 102.8 208.1 C103.92 207.95 104.73 208.42 105.7 210.4 C106.67 212.38 107.47 217.12 108.6 220 C109.73 222.88 110.9 224.33 112.5 227.7 C114.1 231.07 116.45 236.55 118.2 240.2 C119.95 243.85 121.53 246.8 123 249.6 C124.47 252.4 125.5 254.6 127 257 C128.5 259.4 129.87 261.58 132 264 C134.13 266.42 137.2 269.67 139.8 271.5 C142.4 273.33 144.02 274.08 147.6 275 C151.18 275.92 155.4 276.43 161.3 277 C167.2 277.57 179.38 278.17 183 278.4" stroke="#000000" stroke-width="0.85"/>
</g>
<rect x="25.5" y="174.4" width="157.8" height="117" fill="none" stroke="rgba(0,0,0,0.42)" stroke-width="1.0"/>
<path d="M25.5 291.4 v2.0 M57.06 291.4 v2.0 M88.62 291.4 v2.0 M120.18 291.4 v2.0 M151.74 291.4 v2.0 M183.3 291.4 v2.0 M25.5 291.4 h-2.0 M25.5 278.4 h-2.0 M25.5 265.4 h-2.0 M25.5 252.4 h-2.0 M25.5 239.4 h-2.0 M25.5 226.4 h-2.0 M25.5 213.4 h-2.0 M25.5 200.4 h-2.0 M25.5 187.4 h-2.0 M25.5 174.4 h-2.0" stroke="rgba(0,0,0,0.42)" stroke-width="1.0" fill="none"/>
<text class="tk" x="25.5" y="300" text-anchor="middle">−2</text>
<text class="tk" x="57.06" y="300" text-anchor="middle">−1</text>
<text class="tk" x="88.62" y="300" text-anchor="middle">0</text>
<text class="tk" x="120.18" y="300" text-anchor="middle">1</text>
<text class="tk" x="151.74" y="300" text-anchor="middle">2</text>
<text class="tk" x="183.3" y="300" text-anchor="middle">3</text>
<text class="tk" x="22" y="294" text-anchor="end">0.0</text>
<text class="tk" x="22" y="281" text-anchor="end">0.2</text>
<text class="tk" x="22" y="268" text-anchor="end">0.4</text>
<text class="tk" x="22" y="255" text-anchor="end">0.6</text>
<text class="tk" x="22" y="242" text-anchor="end">0.8</text>
<text class="tk" x="22" y="229" text-anchor="end">1.0</text>
<text class="tk" x="22" y="216" text-anchor="end">1.2</text>
<text class="tk" x="22" y="203" text-anchor="end">1.4</text>
<text class="tk" x="22" y="190" text-anchor="end">1.6</text>
<text class="tk" x="22" y="177" text-anchor="end">1.8</text>
<text class="sf" font-size="9.8" x="0" y="0" text-anchor="middle" transform="translate(8.7 233.7) rotate(-90)">DOS</text>
<text class="sf" font-size="9.9" x="104.4" y="309.9" text-anchor="middle">E(eV)</text>
<text class="sf" font-size="13" x="2.6" y="167.8">(e)</text>
<text class="sf st" font-size="13.1" x="57.2" y="167.8" textLength="7.0" lengthAdjust="spacingAndGlyphs">E</text>
<text class="sf st" font-style="italic" font-size="9.2" x="65.2" y="162.3" textLength="4.8" lengthAdjust="spacingAndGlyphs">z</text>
<text class="sf st" font-size="9.9" x="64.5" y="171.7" textLength="10.4" lengthAdjust="spacingAndGlyphs">dc</text>
<rect x="79.6" y="162.5" width="8.1" height="1" fill="#111"/>
<rect x="79.6" y="165" width="8.1" height="1" fill="#111"/>
<text class="sf st" font-size="13.2" x="92.2" y="168" textLength="31" lengthAdjust="spacingAndGlyphs">10.68</text>
<clipPath id="clf"><rect x="192.2" y="174.4" width="157.6" height="117"/></clipPath>
<g clip-path="url(#clf)" fill="none" stroke-linejoin="round" stroke-linecap="round">
<path d="M192.1 285.5 C193.57 284.75 197.77 282.48 200.9 281 C204.03 279.52 208.08 277.52 210.9 276.6 C213.72 275.68 215.65 275.43 217.8 275.5 C219.95 275.57 221.65 276.25 223.8 277 C225.95 277.75 228.93 279.35 230.7 280 C232.47 280.65 232.77 280.42 234.4 280.9 C236.03 281.38 238.98 282.7 240.5 282.9 C242.02 283.1 242.5 283.32 243.5 282.1 C244.5 280.88 245.57 277.67 246.5 275.6 C247.43 273.53 248.25 269.98 249.1 269.7 C249.95 269.42 250.9 274.05 251.6 273.9 C252.3 273.75 252.73 269.5 253.3 268.8 C253.87 268.1 254.57 270.25 255 269.7 C255.43 269.15 255.53 267 255.9 265.5 C256.27 264 256.63 261.27 257.2 260.7 C257.77 260.13 258.53 262.02 259.3 262.1 C260.07 262.18 260.95 261.28 261.8 261.2 C262.65 261.12 263.4 261.03 264.4 261.6 C265.4 262.17 266.4 262.97 267.8 264.6 C269.2 266.23 271.12 269.42 272.8 271.4 C274.48 273.38 275.92 274.95 277.9 276.5 C279.88 278.05 282.43 279.57 284.7 280.7 C286.97 281.83 288.98 282.55 291.5 283.3 C294.02 284.05 296.47 284.7 299.8 285.2 C303.13 285.7 303.22 286.05 311.5 286.3 C319.78 286.55 343.17 286.63 349.5 286.7" stroke="#0000ff" stroke-width="0.85"/>
<path d="M192.1 289.5 C195.12 289.33 204.83 289 210.2 288.5 C215.57 288 220.6 287.33 224.3 286.5 C228 285.67 230.05 284.68 232.4 283.5 C234.75 282.32 236.47 280.72 238.4 279.4 C240.33 278.08 242.5 276.8 244 275.6 C245.5 274.4 246.27 273.75 247.4 272.2 C248.53 270.65 249.95 268.55 250.8 266.3 C251.65 264.05 252.02 260.6 252.5 258.7 C252.98 256.8 253.28 254.9 253.7 254.9 C254.12 254.9 254.63 257.22 255 258.7 C255.37 260.18 255.62 262.67 255.9 263.8 C256.18 264.93 255.85 265.08 256.7 265.5 C257.55 265.92 259.15 266.08 261 266.3 C262.85 266.52 265.55 266.65 267.8 266.8 C270.05 266.95 272.53 266.92 274.5 267.2 C276.47 267.48 277.62 267.52 279.6 268.5 C281.58 269.48 284.13 271.63 286.4 273.1 C288.67 274.57 290.97 276.17 293.2 277.3 C295.43 278.43 296.75 278.82 299.8 279.9 C302.85 280.98 306.93 282.92 311.5 283.8 C316.07 284.68 320.87 284.93 327.2 285.2 C333.53 285.47 345.78 285.37 349.5 285.4" stroke="#e42222" stroke-width="0.85"/>
<path d="M192.1 287.5 C195.12 287.4 203.82 287 210.2 286.9 C216.58 286.8 224.68 286.95 230.4 286.9 C236.12 286.85 241.38 286.92 244.5 286.6 C247.62 286.28 247.48 285.35 249.1 285 C250.72 284.65 252.78 284.98 254.2 284.5 C255.62 284.02 256.18 283.15 257.6 282.1 C259.02 281.05 261 279.28 262.7 278.2 C264.4 277.12 265.83 276.12 267.8 275.6 C269.77 275.08 272.53 275.03 274.5 275.1 C276.47 275.17 277.62 275.35 279.6 276 C281.58 276.65 284.33 278.17 286.4 279 C288.47 279.83 289.73 280.13 292 281 C294.27 281.87 296.75 283 300 284.2 C303.25 285.4 306.5 287.4 311.5 288.2 C316.5 289 323.67 288.82 330 289 C336.33 289.18 346.25 289.25 349.5 289.3" stroke="#008000" stroke-width="0.85"/>
<path d="M192.1 290.4 C200.75 290.38 233.65 290.72 244 290.3 C254.35 289.88 251.65 288.65 254.2 287.9 C256.75 287.15 257.6 286.2 259.3 285.8 C261 285.4 262.7 285.35 264.4 285.5 C266.1 285.65 267.82 286.02 269.5 286.7 C271.18 287.38 271.08 288.98 274.5 289.6 C277.92 290.22 277.5 290.23 290 290.4 C302.5 290.57 339.58 290.57 349.5 290.6" stroke="#00bfbf" stroke-width="0.85"/>
<path d="M192.1 279.4 C193.43 279.75 197.08 280.82 200.1 281.5 C203.12 282.18 206.83 282.83 210.2 283.5 C213.57 284.17 216.93 284.83 220.3 285.5 C223.67 286.17 227.03 287 230.4 287.5 C233.77 288 237.38 288.5 240.5 288.5 C243.62 288.5 246.82 287.38 249.1 287.5 C251.38 287.62 252.22 289.33 254.2 289.2 C256.18 289.07 258.73 286.98 261 286.7 C263.27 286.42 265.55 286.95 267.8 287.5 C270.05 288.05 269.13 289.45 274.5 290 C279.87 290.55 287.5 290.63 300 290.8 C312.5 290.97 341.25 290.97 349.5 291" stroke="#bf00bf" stroke-width="0.85"/>
<path d="M192.1 266.3 C193.1 265.9 195.77 264.83 198.1 263.9 C200.43 262.97 203.08 261.57 206.1 260.7 C209.12 259.83 213.17 258.7 216.2 258.7 C219.23 258.7 221.6 259.7 224.3 260.7 C227 261.7 230.38 263.83 232.4 264.7 C234.42 265.57 234.88 266.13 236.4 265.9 C237.92 265.67 240.15 264.92 241.5 263.3 C242.85 261.68 243.63 258.73 244.5 256.2 C245.37 253.67 246 250.9 246.7 248.1 C247.4 245.3 248.05 240.85 248.7 239.4 C249.35 237.95 250.07 239.55 250.6 239.4 C251.13 239.25 251.42 240.9 251.9 238.5 C252.38 236.1 253.08 227.73 253.5 225 C253.92 222.27 254.08 221.78 254.4 222.1 C254.72 222.42 255.08 227.53 255.4 226.9 C255.72 226.27 255.67 220.07 256.3 218.3 C256.93 216.53 258.23 217.17 259.2 216.3 C260.17 215.43 261.3 213.8 262.1 213.1 C262.9 212.4 263.2 212.03 264 212.1 C264.8 212.17 265.77 212.15 266.9 213.5 C268.03 214.85 269.2 217.65 270.8 220.2 C272.4 222.75 274.58 225.75 276.5 228.8 C278.42 231.85 280.37 235.28 282.3 238.5 C284.23 241.72 286.4 245.27 288.1 248.1 C289.8 250.93 290.87 253.13 292.5 255.5 C294.13 257.87 295.7 259.7 297.9 262.3 C300.1 264.9 302.77 268.82 305.7 271.1 C308.63 273.38 311.92 274.87 315.5 276 C319.08 277.13 321.53 277.42 327.2 277.9 C332.87 278.38 345.78 278.73 349.5 278.9" stroke="#000000" stroke-width="0.85"/>
</g>
<rect x="192.2" y="174.4" width="157.6" height="117" fill="none" stroke="rgba(0,0,0,0.42)" stroke-width="1.0"/>
<path d="M192.2 291.4 v2.0 M223.72 291.4 v2.0 M255.24 291.4 v2.0 M286.76 291.4 v2.0 M318.28 291.4 v2.0 M349.8 291.4 v2.0 M192.2 291.4 h-2.0 M192.2 278.4 h-2.0 M192.2 265.4 h-2.0 M192.2 252.4 h-2.0 M192.2 239.4 h-2.0 M192.2 226.4 h-2.0 M192.2 213.4 h-2.0 M192.2 200.4 h-2.0 M192.2 187.4 h-2.0 M192.2 174.4 h-2.0" stroke="rgba(0,0,0,0.42)" stroke-width="1.0" fill="none"/>
<text class="tk" x="192.2" y="300" text-anchor="middle">−2</text>
<text class="tk" x="223.72" y="300" text-anchor="middle">−1</text>
<text class="tk" x="255.24" y="300" text-anchor="middle">0</text>
<text class="tk" x="286.76" y="300" text-anchor="middle">1</text>
<text class="tk" x="318.28" y="300" text-anchor="middle">2</text>
<text class="tk" x="349.8" y="300" text-anchor="middle">3</text>
<text class="sf" font-size="9.9" x="271" y="309.9" text-anchor="middle">E(eV)</text>
<text class="sf" font-size="13" x="180.6" y="167.8">(f)</text>
<text class="sf st" font-size="13.1" x="232.3" y="167.8" textLength="7.0" lengthAdjust="spacingAndGlyphs">E</text>
<text class="sf st" font-style="italic" font-size="9.2" x="240.3" y="162.3" textLength="4.8" lengthAdjust="spacingAndGlyphs">z</text>
<text class="sf st" font-size="9.9" x="239.6" y="171.7" textLength="10.4" lengthAdjust="spacingAndGlyphs">dc</text>
<rect x="254.7" y="162.5" width="8.1" height="1" fill="#111"/>
<rect x="254.7" y="165" width="8.1" height="1" fill="#111"/>
<text class="sf st" font-size="13.2" x="267.3" y="168" textLength="31" lengthAdjust="spacingAndGlyphs">10.24</text>
<clipPath id="clg"><rect x="357.7" y="174.4" width="157.9" height="117"/></clipPath>
<g clip-path="url(#clg)" fill="none" stroke-linejoin="round" stroke-linecap="round">
<path d="M357.7 283.2 C358.72 282.82 361.15 281.55 363.8 280.9 C366.45 280.25 370.67 279.63 373.6 279.3 C376.53 278.97 378.8 278.9 381.4 278.9 C384 278.9 386.6 278.97 389.2 279.3 C391.8 279.63 394.38 280.42 397 280.9 C399.62 281.38 402.78 281.98 404.9 282.2 C407.02 282.42 408.4 282.58 409.7 282.2 C411 281.82 411.88 281.27 412.7 279.9 C413.52 278.53 414.02 275.2 414.6 274 C415.18 272.8 415.43 274.33 416.2 272.7 C416.97 271.07 418.32 266.38 419.2 264.2 C420.08 262.02 420.85 260.55 421.5 259.6 C422.15 258.65 422.45 258.45 423.1 258.5 C423.75 258.55 424.5 259.45 425.4 259.9 C426.3 260.35 427.35 260.48 428.5 261.2 C429.65 261.92 431.02 263 432.3 264.2 C433.58 265.4 434.78 267.03 436.2 268.4 C437.62 269.77 439.02 271.05 440.8 272.4 C442.58 273.75 444.85 275.22 446.9 276.5 C448.95 277.78 451.05 279.07 453.1 280.1 C455.15 281.13 457.08 282.08 459.2 282.7 C461.32 283.32 462.75 283.38 465.8 283.8 C468.85 284.22 469.22 284.85 477.5 285.2 C485.78 285.55 509.17 285.78 515.5 285.9" stroke="#0000ff" stroke-width="0.85"/>
<path d="M357.7 288.7 C360.67 288.53 370.57 288.1 375.5 287.7 C380.43 287.3 383.72 286.95 387.3 286.3 C390.88 285.65 394.07 285.03 397 283.8 C399.93 282.57 402.65 280.7 404.9 278.9 C407.15 277.1 409.13 274.42 410.5 273 C411.87 271.58 412.15 271.22 413.1 270.4 C414.05 269.58 415.3 269.38 416.2 268.1 C417.1 266.82 417.82 264.3 418.5 262.7 C419.18 261.1 419.8 258.5 420.3 258.5 C420.8 258.5 420.92 261.67 421.5 262.7 C422.08 263.73 422.63 264.27 423.8 264.7 C424.97 265.13 426.7 265.05 428.5 265.3 C430.3 265.55 432.3 265.78 434.6 266.2 C436.9 266.62 440.25 267.23 442.3 267.8 C444.35 268.37 445.1 268.73 446.9 269.6 C448.7 270.47 451.05 271.85 453.1 273 C455.15 274.15 457.08 275.35 459.2 276.5 C461.32 277.65 462.75 278.78 465.8 279.9 C468.85 281.02 472.93 282.45 477.5 283.2 C482.07 283.95 486.87 284.13 493.2 284.4 C499.53 284.67 511.78 284.73 515.5 284.8" stroke="#e42222" stroke-width="0.85"/>
<path d="M357.7 286.3 C360.67 286.3 369.27 286.23 375.5 286.3 C381.73 286.37 389.88 286.57 395.1 286.7 C400.32 286.83 404.32 287.18 406.8 287.1 C409.28 287.02 408.43 286.6 410 286.2 C411.57 285.8 414.4 285.03 416.2 284.7 C418 284.37 419.53 284.67 420.8 284.2 C422.07 283.73 422.52 283.1 423.8 281.9 C425.08 280.7 426.95 278.07 428.5 277 C430.05 275.93 431.05 275.83 433.1 275.5 C435.15 275.17 438.75 275 440.8 275 C442.85 275 443.62 274.98 445.4 275.5 C447.18 276.02 449.2 277.08 451.5 278.1 C453.8 279.12 456.82 280.65 459.2 281.6 C461.58 282.55 462.75 282.82 465.8 283.8 C468.85 284.78 472.63 286.72 477.5 287.5 C482.37 288.28 488.67 288.28 495 288.5 C501.33 288.72 512.08 288.75 515.5 288.8" stroke="#008000" stroke-width="0.85"/>
<path d="M357.7 290.4 C367.95 290.38 408.43 290.82 419.2 290.3 C429.97 289.78 421.02 287.93 422.3 287.3 C423.58 286.67 425.37 286.5 426.9 286.5 C428.43 286.5 429.7 286.92 431.5 287.3 C433.3 287.68 435.65 288.33 437.7 288.8 C439.75 289.27 430.83 289.8 443.8 290.1 C456.77 290.4 503.55 290.52 515.5 290.6" stroke="#00bfbf" stroke-width="0.85"/>
<path d="M357.7 277 C358.72 277.32 360.83 278 363.8 278.9 C366.77 279.8 371.92 281.42 375.5 282.4 C379.08 283.38 382.03 284.08 385.3 284.8 C388.57 285.52 391.83 286.12 395.1 286.7 C398.37 287.28 401.65 287.92 404.9 288.3 C408.15 288.68 412.22 289.03 414.6 289 C416.98 288.97 417.15 288.57 419.2 288.1 C421.25 287.63 424.85 286.47 426.9 286.2 C428.95 285.93 429.7 286.18 431.5 286.5 C433.3 286.82 435.38 287.55 437.7 288.1 C440.02 288.65 440.02 289.43 445.4 289.8 C450.78 290.17 458.32 290.18 470 290.3 C481.68 290.42 507.92 290.47 515.5 290.5" stroke="#bf00bf" stroke-width="0.85"/>
<path d="M357.7 262.8 C358.72 262.93 360.83 263.3 363.8 263.6 C366.77 263.9 371.58 264.2 375.5 264.6 C379.42 265 384.03 265.57 387.3 266 C390.57 266.43 393.15 266.95 395.1 267.2 C397.05 267.45 397.53 267.83 399 267.5 C400.47 267.17 402.27 266.53 403.9 265.2 C405.53 263.87 407.33 261.98 408.8 259.5 C410.27 257.02 411.57 253.72 412.7 250.3 C413.83 246.88 414.8 242.25 415.6 239 C416.4 235.75 416.87 233.77 417.5 230.8 C418.13 227.83 418.92 223.2 419.4 221.2 C419.88 219.2 419.75 219.77 420.4 218.8 C421.05 217.83 422.33 216.2 423.3 215.4 C424.27 214.6 425.33 214.38 426.2 214 C427.07 213.62 427.7 212.93 428.5 213.1 C429.3 213.27 430.12 213.82 431 215 C431.88 216.18 432.85 218.7 433.8 220.2 C434.75 221.7 435.57 222.7 436.7 224 C437.83 225.3 439 225.88 440.6 228 C442.2 230.12 444.32 233.35 446.3 236.7 C448.28 240.05 450.42 244.63 452.5 248.1 C454.58 251.57 456.37 254.37 458.8 257.5 C461.23 260.63 464.33 264.37 467.1 266.9 C469.87 269.43 472.75 271.27 475.4 272.7 C478.05 274.13 480.03 274.7 483 275.5 C485.97 276.3 487.78 276.98 493.2 277.5 C498.62 278.02 511.78 278.42 515.5 278.6" stroke="#000000" stroke-width="0.85"/>
</g>
<rect x="357.7" y="174.4" width="157.9" height="117" fill="none" stroke="rgba(0,0,0,0.42)" stroke-width="1.0"/>
<path d="M357.7 291.4 v2.0 M389.28 291.4 v2.0 M420.86 291.4 v2.0 M452.44 291.4 v2.0 M484.02 291.4 v2.0 M515.6 291.4 v2.0 M357.7 291.4 h-2.0 M357.7 278.4 h-2.0 M357.7 265.4 h-2.0 M357.7 252.4 h-2.0 M357.7 239.4 h-2.0 M357.7 226.4 h-2.0 M357.7 213.4 h-2.0 M357.7 200.4 h-2.0 M357.7 187.4 h-2.0 M357.7 174.4 h-2.0" stroke="rgba(0,0,0,0.42)" stroke-width="1.0" fill="none"/>
<text class="tk" x="357.7" y="300" text-anchor="middle">−2</text>
<text class="tk" x="389.28" y="300" text-anchor="middle">−1</text>
<text class="tk" x="420.86" y="300" text-anchor="middle">0</text>
<text class="tk" x="452.44" y="300" text-anchor="middle">1</text>
<text class="tk" x="484.02" y="300" text-anchor="middle">2</text>
<text class="tk" x="515.6" y="300" text-anchor="middle">3</text>
<text class="sf" font-size="9.9" x="436.65" y="309.9" text-anchor="middle">E(eV)</text>
<text class="sf" font-size="13" x="346.1" y="167.8">(g)</text>
<text class="sf st" font-size="13.1" x="405" y="167.8" textLength="7.0" lengthAdjust="spacingAndGlyphs">E</text>
<text class="sf st" font-style="italic" font-size="9.2" x="413" y="162.3" textLength="4.8" lengthAdjust="spacingAndGlyphs">z</text>
<text class="sf st" font-size="9.9" x="412.3" y="171.7" textLength="10.4" lengthAdjust="spacingAndGlyphs">dc</text>
<rect x="427.4" y="162.5" width="8.1" height="1" fill="#111"/>
<rect x="427.4" y="165" width="8.1" height="1" fill="#111"/>
<text class="sf st" font-size="13.2" x="440" y="168" textLength="31" lengthAdjust="spacingAndGlyphs">10.04</text>
<clipPath id="clh"><rect x="524" y="174.4" width="158" height="117"/></clipPath>
<g clip-path="url(#clh)" fill="none" stroke-linejoin="round" stroke-linecap="round">
<path d="M524 283.2 C525.3 282.82 528.88 281.52 531.8 280.9 C534.72 280.28 538.9 279.77 541.5 279.5 C544.1 279.23 545.12 279.13 547.4 279.3 C549.68 279.47 552.27 279.92 555.2 280.5 C558.13 281.08 561.9 282.15 565 282.8 C568.1 283.45 571.52 284.33 573.8 284.4 C576.08 284.47 577.3 284.13 578.7 283.2 C580.1 282.27 581.12 280.8 582.2 278.8 C583.28 276.8 584.32 273.25 585.2 271.2 C586.08 269.15 586.73 267.72 587.5 266.5 C588.27 265.28 588.77 264.45 589.8 263.9 C590.83 263.35 592.42 263.15 593.7 263.2 C594.98 263.25 596.08 263.52 597.5 264.2 C598.92 264.88 600.4 265.88 602.2 267.3 C604 268.72 606.25 271.03 608.3 272.7 C610.35 274.37 612.45 275.97 614.5 277.3 C616.55 278.63 618.55 279.8 620.6 280.7 C622.65 281.6 624.77 282.23 626.8 282.7 C628.83 283.17 629.85 283.08 632.8 283.5 C635.75 283.92 636.3 284.73 644.5 285.2 C652.7 285.67 675.75 286.12 682 286.3" stroke="#0000ff" stroke-width="0.85"/>
<path d="M524 289.1 C526.92 288.93 536.3 288.57 541.5 288.1 C546.7 287.63 551.28 287.12 555.2 286.3 C559.12 285.48 562.07 284.75 565 283.2 C567.93 281.65 570.97 278.62 572.8 277 C574.63 275.38 574.95 274.6 576 273.5 C577.05 272.4 577.95 271.43 579.1 270.4 C580.25 269.37 581.88 268.58 582.9 267.3 C583.92 266.02 584.55 264.05 585.2 262.7 C585.85 261.35 586.28 259.33 586.8 259.2 C587.32 259.07 587.53 261.07 588.3 261.9 C589.07 262.73 590.12 263.48 591.4 264.2 C592.68 264.92 594.2 265.77 596 266.2 C597.8 266.63 600.15 266.53 602.2 266.8 C604.25 267.07 606.52 267.33 608.3 267.8 C610.08 268.27 611.1 268.78 612.9 269.6 C614.7 270.42 617.05 271.7 619.1 272.7 C621.15 273.7 622.92 274.4 625.2 275.6 C627.48 276.8 629.58 278.53 632.8 279.9 C636.02 281.27 639.93 282.92 644.5 283.8 C649.07 284.68 653.95 284.88 660.2 285.2 C666.45 285.52 678.37 285.62 682 285.7" stroke="#e42222" stroke-width="0.85"/>
<path d="M524 286.3 C528.55 286.37 543.17 286.57 551.3 286.7 C559.43 286.83 568.68 287.18 572.8 287.1 C576.92 287.02 574.43 286.55 576 286.2 C577.57 285.85 580.15 285.58 582.2 285 C584.25 284.42 586.52 283.73 588.3 282.7 C590.08 281.67 591.37 279.75 592.9 278.8 C594.43 277.85 595.7 277.43 597.5 277 C599.3 276.57 601.65 276.45 603.7 276.2 C605.75 275.95 608 275.45 609.8 275.5 C611.6 275.55 612.7 275.88 614.5 276.5 C616.3 277.12 618.55 278.3 620.6 279.2 C622.65 280.1 624.77 281.13 626.8 281.9 C628.83 282.67 629.85 282.82 632.8 283.8 C635.75 284.78 639.97 286.93 644.5 287.8 C649.03 288.67 653.75 288.73 660 289 C666.25 289.27 678.33 289.33 682 289.4" stroke="#008000" stroke-width="0.85"/>
<path d="M524 290.4 C532.67 290.42 565.28 290.63 576 290.5 C586.72 290.37 585.48 289.93 588.3 289.6 C591.12 289.27 591.1 288.7 592.9 288.5 C594.7 288.3 597.05 288.27 599.1 288.4 C601.15 288.53 603.15 288.98 605.2 289.3 C607.25 289.62 598.6 290.08 611.4 290.3 C624.2 290.52 670.23 290.55 682 290.6" stroke="#00bfbf" stroke-width="0.85"/>
<path d="M524 276 C525.3 276.65 528.88 278.6 531.8 279.9 C534.72 281.2 538.25 282.67 541.5 283.8 C544.75 284.93 548.03 285.95 551.3 286.7 C554.57 287.45 557.52 287.9 561.1 288.3 C564.68 288.7 568.78 289.02 572.8 289.1 C576.82 289.18 582.1 289.1 585.2 288.8 C588.3 288.5 589.6 287.63 591.4 287.3 C593.2 286.97 594.2 286.75 596 286.8 C597.8 286.85 599.9 287.08 602.2 287.6 C604.5 288.12 603.5 289.38 609.8 289.9 C616.1 290.42 627.97 290.52 640 290.7 C652.03 290.88 675 290.95 682 291" stroke="#bf00bf" stroke-width="0.85"/>
<path d="M524 260.9 C525.3 261.13 528.88 261.8 531.8 262.3 C534.72 262.8 538.25 263.35 541.5 263.9 C544.75 264.45 548.03 264.95 551.3 265.6 C554.57 266.25 558.65 267.28 561.1 267.8 C563.55 268.32 564.37 268.87 566 268.7 C567.63 268.53 569.43 267.87 570.9 266.8 C572.37 265.73 573.5 264.25 574.8 262.3 C576.1 260.35 577.73 256.83 578.7 255.1 C579.67 253.37 579.8 254.03 580.6 251.9 C581.4 249.77 582.77 245.5 583.5 242.3 C584.23 239.1 584.53 235.75 585 232.7 C585.47 229.65 585.6 226.08 586.3 224 C587 221.92 588.07 221.32 589.2 220.2 C590.33 219.08 591.82 217.47 593.1 217.3 C594.38 217.13 595.3 218.08 596.9 219.2 C598.5 220.32 600.85 222.28 602.7 224 C604.55 225.72 606.57 228.08 608 229.5 C609.43 230.92 609.72 230.27 611.3 232.5 C612.88 234.73 615.42 239.43 617.5 242.9 C619.58 246.37 621.72 250 623.8 253.3 C625.88 256.6 627.58 259.75 630 262.7 C632.42 265.65 635.52 268.92 638.3 271 C641.08 273.08 643.92 274.15 646.7 275.2 C649.48 276.25 651.95 276.73 655 277.3 C658.05 277.87 660.5 278.25 665 278.6 C669.5 278.95 679.17 279.27 682 279.4" stroke="#000000" stroke-width="0.85"/>
</g>
<rect x="524" y="174.4" width="158" height="117" fill="none" stroke="rgba(0,0,0,0.42)" stroke-width="1.0"/>
<path d="M524 291.4 v2.0 M555.6 291.4 v2.0 M587.2 291.4 v2.0 M618.8 291.4 v2.0 M650.4 291.4 v2.0 M682 291.4 v2.0 M524 291.4 h-2.0 M524 278.4 h-2.0 M524 265.4 h-2.0 M524 252.4 h-2.0 M524 239.4 h-2.0 M524 226.4 h-2.0 M524 213.4 h-2.0 M524 200.4 h-2.0 M524 187.4 h-2.0 M524 174.4 h-2.0" stroke="rgba(0,0,0,0.42)" stroke-width="1.0" fill="none"/>
<text class="tk" x="524" y="300" text-anchor="middle">−2</text>
<text class="tk" x="555.6" y="300" text-anchor="middle">−1</text>
<text class="tk" x="587.2" y="300" text-anchor="middle">0</text>
<text class="tk" x="618.8" y="300" text-anchor="middle">1</text>
<text class="tk" x="650.4" y="300" text-anchor="middle">2</text>
<text class="tk" x="682" y="300" text-anchor="middle">3</text>
<text class="sf" font-size="9.9" x="603" y="309.9" text-anchor="middle">E(eV)</text>
<text class="sf" font-size="13" x="514.2" y="167.8">(h)</text>
<text class="sf st" font-size="13.1" x="575.5" y="167.8" textLength="7.0" lengthAdjust="spacingAndGlyphs">E</text>
<text class="sf st" font-style="italic" font-size="9.2" x="583.5" y="162.3" textLength="4.8" lengthAdjust="spacingAndGlyphs">z</text>
<text class="sf st" font-size="9.9" x="582.8" y="171.7" textLength="10.4" lengthAdjust="spacingAndGlyphs">dc</text>
<rect x="597.9" y="162.5" width="8.1" height="1" fill="#111"/>
<rect x="597.9" y="165" width="8.1" height="1" fill="#111"/>
<text class="sf st" font-size="13.2" x="610.5" y="168" textLength="24.2" lengthAdjust="spacingAndGlyphs">9.75</text>
<path d="M128.8 28.7 H145.9" stroke="#5050ff" stroke-width="1.0"/>
<path d="M128.8 41.12 H145.9" stroke="#ff7070" stroke-width="1.0"/>
<path d="M128.8 53.54 H145.9" stroke="#50a050" stroke-width="1.0"/>
<path d="M128.8 65.96 H145.9" stroke="#40cccc" stroke-width="1.0"/>
<path d="M128.8 78.38 H145.9" stroke="#cc50cc" stroke-width="1.0"/>
<path d="M128.8 90.8 H145.9" stroke="#333333" stroke-width="1.0"/>
<text class="lg" x="152.2" y="32" font-style="italic">d<tspan font-size="6" dy="1.8">z</tspan><tspan font-size="4.5" dy="-2.2">2</tspan></text>
<text class="lg" x="152.2" y="44.42" font-style="italic">d<tspan font-size="6" dy="1.8">x</tspan><tspan font-size="4.5" dy="-2.2">2</tspan><tspan font-size="6" dy="2.2"> − y</tspan><tspan font-size="4.5" dy="-2.2">2</tspan></text>
<text class="lg" x="152.2" y="56.84" font-style="italic">p<tspan font-size="6" dy="1.8">x</tspan><tspan dy="-1.8" font-style="normal">, </tspan>p<tspan font-size="6" dy="1.8">y</tspan></text>
<text class="lg" x="152.2" y="69.26" font-style="italic">p<tspan font-size="6" dy="1.8">z</tspan></text>
<text class="lg" x="152.2" y="81.68" font-style="italic">p<tspan font-size="6" dy="1.8">z′</tspan></text>
<text class="lg" x="152.2" y="93.9">total</text>
</svg></body></html>
